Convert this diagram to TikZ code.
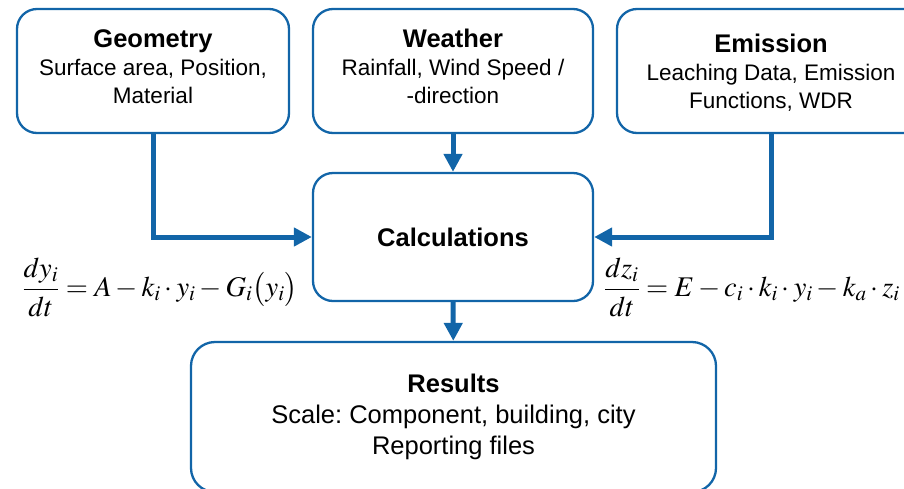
\documentclass[tikz,border=0pt]{standalone}
\usepackage{mathptmx}
\usepackage[no-math]{fontspec}
\setmainfont{Liberation Sans}
\usetikzlibrary{arrows.meta}

\definecolor{flowblue}{RGB}{18,101,168}
\newcommand{\boxtitle}[1]{{\fontsize{25.5}{31}\selectfont\bfseries #1}}
\frenchspacing

\tikzset{
  box/.style={draw=flowblue, line width=2.3pt, rounded corners=20pt,
    align=center, inner sep=0pt, font=\fontsize{22.5}{28}\selectfont},
  feed/.style={flowblue, line width=5pt, -{Triangle[length=18pt,width=18pt]}},
  eqn/.style={font=\fontsize{28.5}{33}\selectfont},
}

\begin{document}
\begin{tikzpicture}[x=1pt,y=-1pt]
        \path[use as bounding box, clip] (0,0) rectangle (904,488);
        %% inputs
        \node[box, minimum width=272pt, minimum height=124pt, text depth=9pt] (geo) at (153,71)
          {\boxtitle{Geometry}\\Surface area, Position,\\Material};
        \node[box, minimum width=280pt, minimum height=124pt, text depth=9pt] (wea) at (453,71)
          {\boxtitle{Weather}\\Rainfall, Wind Speed /\\-direction};
        \node[box, minimum width=308pt, minimum height=124pt, text depth=0pt] (emi) at (771,71)
          {\boxtitle{Emission}\\Leaching Data, Emission\\Functions, WDR};
        %% model and output
        \node[box, minimum width=280pt, minimum height=128pt] (calc) at (453,237)
          {\boxtitle{Calculations}};
        \node[box, rounded corners=24pt, minimum width=525pt, minimum height=150pt,
          font=\fontsize{25.5}{31}\selectfont] (res) at (453.5,417)
          {\boxtitle{Results}\\Scale: Component, building, city\\Reporting files};
        %% balance equations
        \node[eqn] (eqy) at (160,287)
          {$\displaystyle\frac{dy_i}{dt}=A-k_i\cdot y_i-G_i\big(y_i\big)$};
        \node[eqn] (eqz) at (752,287)
          {$\displaystyle\frac{dz_i}{dt}=E-c_i\cdot k_i\cdot y_i-k_a\cdot z_i$};
        %% flow
        \draw[feed] (geo) |- (calc);
        \draw[feed] (emi) |- (calc);
        \draw[feed] (wea) -- (calc);
        \draw[feed] (calc) -- (res);
\end{tikzpicture}
\end{document}
